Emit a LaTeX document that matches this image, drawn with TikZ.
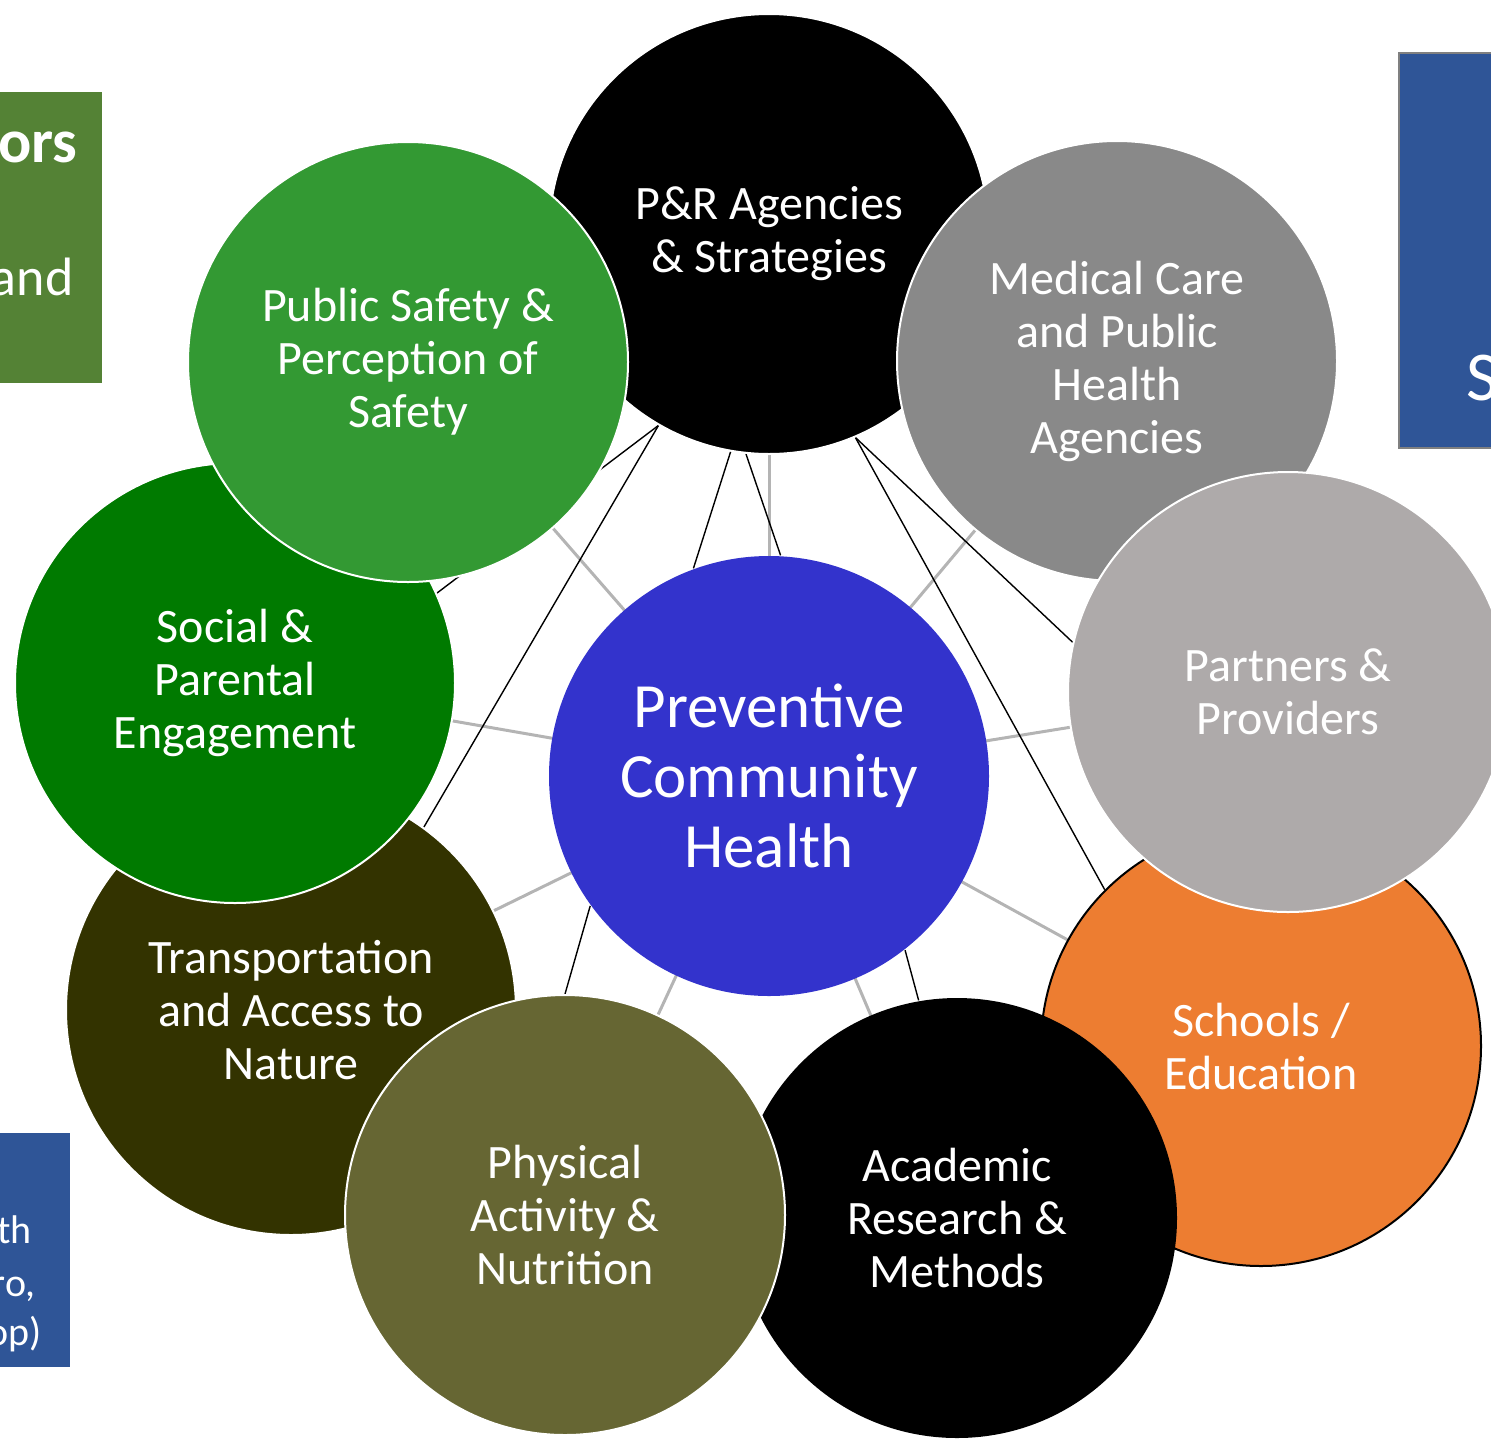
\documentclass[tikz,border=0pt]{standalone}
\usepackage{fontspec}
\setmainfont{Carlito}
\usepackage{xcolor}
\usetikzlibrary{
  backgrounds
}
\definecolor{medgray}{HTML}{898989}
\definecolor{partnergray}{HTML}{AEAAAA}
\definecolor{schoolorange}{HTML}{ED7D31}
\definecolor{transolive}{HTML}{333300}
\definecolor{physolive}{HTML}{666633}
\definecolor{socialgreen}{HTML}{007A00}
\definecolor{safetygreen}{HTML}{339933}
\definecolor{hubblue}{HTML}{3333CC}
\definecolor{boxgreen}{HTML}{548235}
\definecolor{boxblue}{HTML}{2F5597}
\definecolor{spokegray}{HTML}{B4B4B4}

\begin{document}
\begin{tikzpicture}[x=0.5pt, y=-0.5pt,
    topic/.style={circle, minimum size=220pt, inner sep=0pt, draw=white, line width=1pt, text=white, align=center, font=\fontsize{24}{26.5}\selectfont},
    boxtext/.style={text=white, inner sep=0pt},
    spoke/.style={draw=spokegray, line width=1.5pt},
    link/.style={draw=black, line width=0.7pt}]
\useasboundingbox (0,0) rectangle (1491,1440);

% boxes cut by the page edge
\fill[boxgreen] (-5,92) rectangle (102,383);
\node[boxtext, anchor=base east, font=\fontsize{31}{36}\selectfont\bfseries] (ors) at (78,162) {ors};
\node[boxtext, anchor=base east, font=\fontsize{27}{31}\selectfont] (and) at (74,295) {and};
\draw[fill=boxblue, draw=gray, line width=1pt] (1399,53) rectangle (1520,448);
\node[boxtext, anchor=base west, font=\fontsize{35}{40}\selectfont] (s) at (1466,400) {S};
\fill[boxblue] (-5,1133) rectangle (70,1367);
\node[boxtext, anchor=base east, font=\fontsize{20}{26}\selectfont] (th) at (32,1243) {th};
\node[boxtext, anchor=base east, font=\fontsize{20}{26}\selectfont] (ro) at (36,1296) {ro,};
\node[boxtext, anchor=base east, font=\fontsize{20}{26}\selectfont] (op) at (42,1345) {op)};

% circles, back to front
\node[topic, fill=black] (pr) at (769,234) {P\&R Agencies\\\& Strategies};
\node[topic, fill=medgray] (med) at (1117,361) {Medical Care\\and Public\\Health\\Agencies};
\node[topic, fill=schoolorange, draw=black] (school) at (1261,1046) {Schools /\\Education};
\node[topic, fill=partnergray] (partner) at (1288,692) {Partners \&\\Providers};
\node[topic, fill=black, draw=none] (acad) at (957,1218) {Academic\\Research \&\\Methods};
\node[topic, fill=transolive, minimum size=225pt] (trans) at (291,1010) {Transportation\\and Access to\\Nature};
\node[topic, fill=physolive] (phys) at (565,1215) {Physical\\Activity \&\\Nutrition};
\node[topic, fill=socialgreen] (social) at (235,683) {Social \&\\Parental\\Engagement};
\node[topic, fill=safetygreen] (safety) at (408,362) {Public Safety \&\\Perception of\\Safety};
\node[topic, fill=hubblue, draw=none, font=\fontsize{31.5}{35}\selectfont] (pch) at (769,776) {Preventive\\Community\\Health};

% connectors behind the circles
\begin{scope}[on background layer]
\foreach \t in {pr,med,partner,school,acad,phys,trans,social,safety}
  \draw[spoke] (pch.center) -- (\t.center);
\draw[link] (pr.240) -- (social.24);
\draw[link] (pr.240) -- (trans.54);
\draw[link] (pr.260) -- (pch.110);
\draw[link] (pr.264) -- (pch.87);
\draw[link] (pr.293) -- (partner.167);
\draw[link] (pr.293) -- (school.135);
\draw[link] (pch.216) -- (phys.90);
\draw[link] (pch.308) -- (acad.100);
\end{scope}
\end{tikzpicture}
\end{document}
